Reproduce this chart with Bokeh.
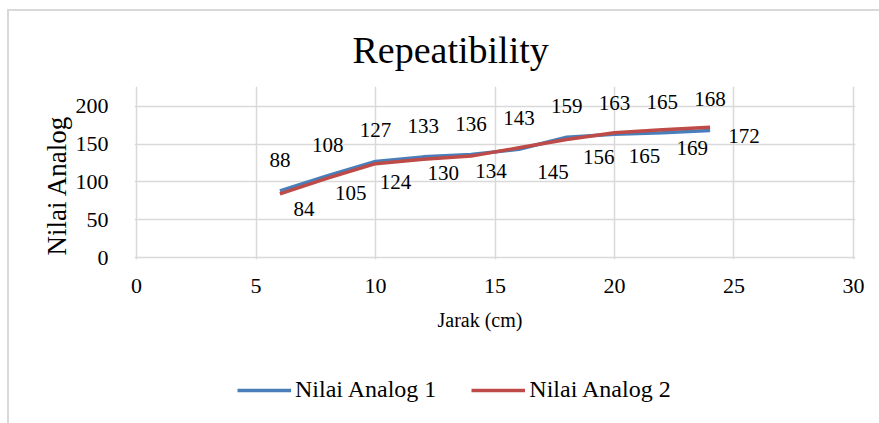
import numpy as np
from bokeh.plotting import figure
from bokeh.layouts import column
from bokeh.models import Legend, LegendItem, Range1d, FixedTicker, ColumnDataSource, LabelSet, Title
from bokeh.embed import file_html
from bokeh.resources import INLINE

jarak = [6, 8, 10, 12, 14, 16, 18, 20, 22, 24]
analog1 = [88, 108, 127, 133, 136, 143, 159, 163, 165, 168]
analog2 = [84, 105, 124, 130, 134, 145, 156, 165, 169, 172]
x_ticks = [0, 5, 10, 15, 20, 25, 30]
y_ticks = [0, 50, 100, 150, 200]
series_names = ["Nilai Analog 1", "Nilai Analog 2"]

# label placement (pixels) for series 2 data labels
lab2_dx = [24, 23, 20, 20, 20, 34, 32, 30, 30, 34]
lab2_dy = [-15, -15, -18, -14, -15, -24, -18, -23, -18, -9]

FONT = "Liberation Serif"
BLUE = "#4a7ebb"
RED = "#be4b48"
GRID = "#d9d9d9"
X_MIN, X_MAX = x_ticks[0], x_ticks[-1]
Y_MIN, Y_MAX = y_ticks[0], y_ticks[-1]

# small padding so that the edge grid lines are not cut by the frame;
# extra room on top keeps the data labels visible
p = figure(width=870, height=339, output_backend="svg", toolbar_location=None,
           x_range=Range1d(X_MIN - 0.0837, X_MAX + 0.0837), y_range=Range1d(Y_MIN - 2.63, 226),
           min_border_left=125, min_border_right=24, min_border_top=74, min_border_bottom=91)

p.title.text = "Repeatibility"
p.title.text_font = FONT
p.title.text_font_size = "38px"
p.title.text_font_style = "normal"
p.title.text_color = "#000000"
p.title.align = "left"
p.title.offset = 218
p.title.standoff = 31

p.outline_line_color = None
for g in (p.xgrid, p.ygrid):
    g.grid_line_color = GRID
    g.grid_line_width = 1.5
p.xgrid.bounds = (Y_MIN, Y_MAX)
p.ygrid.bounds = (X_MIN, X_MAX)
p.xaxis.ticker = FixedTicker(ticks=x_ticks)
p.yaxis.ticker = FixedTicker(ticks=y_ticks)
for ax in (p.xaxis, p.yaxis):
    ax.axis_line_color = None
    ax.major_tick_line_color = None
    ax.minor_tick_line_color = None
    ax.major_label_text_font = FONT
    ax.major_label_text_font_size = "22px"
    ax.major_label_text_color = "#000000"
p.xaxis.major_label_standoff = 13
p.yaxis.major_label_standoff = 20

xt = Title(text="Jarak (cm)", align="left", offset=303, standoff=22,
           text_font=FONT, text_font_size="20px", text_font_style="normal", text_color="#000000")
p.add_layout(xt, "below")
yt = Title(text="Nilai Analog", align="left", offset=4, standoff=1,
           text_font=FONT, text_font_size="27px", text_font_style="normal", text_color="#000000")
p.add_layout(yt, "left")

src = ColumnDataSource(dict(x=jarak, a1=analog1, a2=analog2,
                            t1=[str(v) for v in analog1], t2=[str(v) for v in analog2],
                            dx=lab2_dx, dy=lab2_dy))

p.line("x", "a1", source=src, line_color=BLUE, line_width=3.5)
p.line("x", "a2", source=src, line_color=RED, line_width=3.5)

lab1 = LabelSet(x="x", y="a1", text="t1", source=src, x_offset=0, y_offset=31,
                text_align="center", text_baseline="middle", text_font_size="21px",
                text_font=FONT, text_color="#000000")
lab2 = LabelSet(x="x", y="a2", text="t2", source=src, x_offset="dx", y_offset="dy",
                text_align="center", text_baseline="middle", text_font_size="21px",
                text_font=FONT, text_color="#000000")
p.add_layout(lab1)
p.add_layout(lab2)

# legend strip below the chart
p2 = figure(width=870, height=73, output_backend="svg", toolbar_location=None,
            x_range=Range1d(0, 1), y_range=Range1d(0, 1),
            min_border_left=0, min_border_right=0, min_border_top=0, min_border_bottom=0)
p2.axis.visible = False
p2.grid.visible = False
p2.outline_line_color = None
s1 = p2.line(x=[np.nan, np.nan], y=[np.nan, np.nan], line_color=BLUE, line_width=3.5)
s2 = p2.line(x=[np.nan, np.nan], y=[np.nan, np.nan], line_color=RED, line_width=3.5)
legend = Legend(items=[LegendItem(label=series_names[0], renderers=[s1]),
                       LegendItem(label=series_names[1], renderers=[s2])],
                orientation="horizontal", location=(103, 20),
                padding=0, margin=0, spacing=35, label_standoff=4,
                glyph_width=54, glyph_height=20, label_height=20,
                label_text_font=FONT, label_text_font_size="24px", label_text_color="#000000",
                border_line_color=None, background_fill_alpha=0)
p2.add_layout(legend, "center")

lay = column(p, p2, spacing=0)
lay.styles = {"margin-left": "7px", "margin-top": "9px",
              "border-left": "2px solid #d9d9d9", "border-top": "2px solid #d9d9d9"}

open("out.html", "w").write(file_html(lay, INLINE))
